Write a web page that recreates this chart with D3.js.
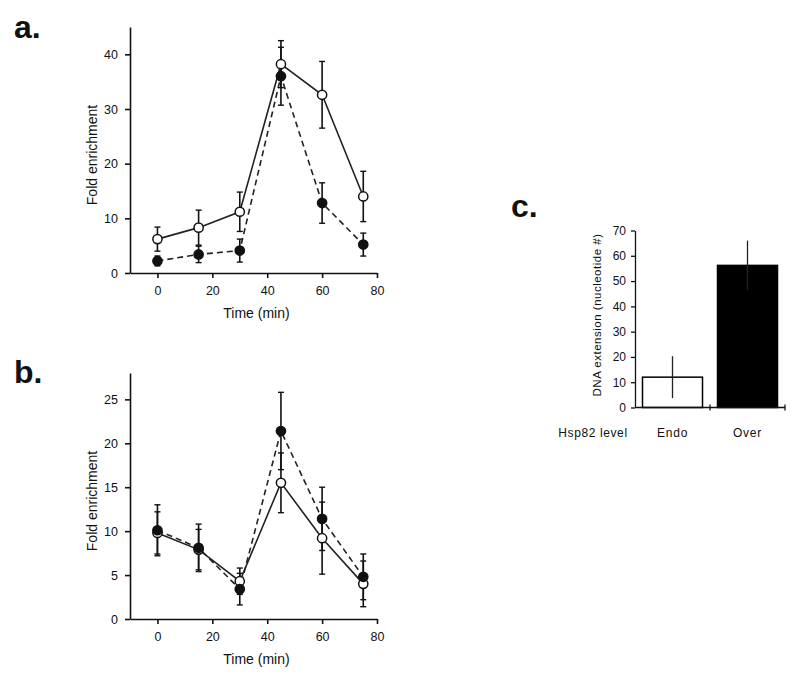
<!DOCTYPE html>
<html><head><meta charset="utf-8">
<script src="https://cdn.jsdelivr.net/npm/d3@7"></script>
<style>body{margin:0;background:#fff}svg{display:block}text{font-family:"Liberation Sans",Arial,sans-serif;fill:#111}</style>
</head><body>
<svg id="c" width="800" height="677"></svg>
<script>
// ---- data ----
const times = [0, 15, 30, 45, 60, 75];
const aOpen = [6.2, 8.3, 11.2, 38.2, 32.6, 14.0];
const aOpenErr = [2.2, 3.2, 3.6, 4.3, 6.1, 4.6];
const aFilled = [2.2, 3.4, 4.1, 36.0, 12.8, 5.2];
const aFilledErr = [0.9, 1.5, 2.1, 5.3, 3.7, 2.1];
const bOpen = [9.8, 7.9, 4.3, 15.5, 9.2, 4.0];
const bOpenErr = [2.4, 2.3, 1.5, 3.4, 4.1, 2.6];
const bFilled = [10.1, 8.1, 3.4, 21.4, 11.4, 4.8];
const bFilledErr = [2.9, 2.7, 1.8, 4.4, 3.6, 2.6];
const xTicks = [0, 20, 40, 60, 80];
const aYTicks = [0, 10, 20, 30, 40];
const bYTicks = [0, 5, 10, 15, 20, 25];
const cCats = ["Endo", "Over"];
const cVals = [12.0, 56.2];
const cErr = [8.3, 9.8];
const cYTicks = [0, 10, 20, 30, 40, 50, 60, 70];

const svg = d3.select("#c");

function linePanel(o) {
  const x = d3.scaleLinear().domain([-10, 80]).range([o.x0, o.x1]);
  const y = d3.scaleLinear().domain([0, o.ymax]).range([o.y0, o.y1]);
  const g = svg.append("g");
  const xa = g.append("g").attr("transform", `translate(0,${o.y0})`)
    .call(d3.axisBottom(x).tickValues(xTicks).tickSize(5).tickPadding(8).tickSizeOuter(0));
  const ya = g.append("g").attr("transform", `translate(${o.x0},0)`)
    .call(d3.axisLeft(y).tickValues(o.yTicks).tickSize(5).tickPadding(7).tickSizeOuter(0));
  [xa, ya].forEach(a => {
    a.select(".domain").attr("stroke", "#111").attr("stroke-width", 1.6);
    a.selectAll(".tick line").attr("stroke", "#111").attr("stroke-width", 1.6);
    a.selectAll("text").attr("font-size", 12.5).attr("fill", "#111");
  });
  g.append("text").attr("x", (x(-10) + x(80)) / 2 + 3).attr("y", o.y0 + 45)
    .attr("text-anchor", "middle").attr("font-size", 14).text("Time (min)");
  g.append("text").attr("transform", `translate(${o.x0 - 33},${(o.y0 + o.y1) / 2 + 5}) rotate(-90)`)
    .attr("text-anchor", "middle").attr("font-size", 14).text("Fold enrichment");
  g.append("text").attr("x", 14).attr("y", o.labelY).attr("font-size", 32)
    .attr("font-weight", "bold").text(o.label);

  const line = d3.line().x((d, i) => x(times[i])).y(d => y(d));
  o.series.forEach(s => {
    g.append("path").datum(s.v).attr("d", line).attr("fill", "none")
      .attr("stroke", "#222").attr("stroke-width", 1.6)
      .attr("stroke-dasharray", s.dash ? "6,4" : null);
    const eb = g.append("g");
    s.v.forEach((v, i) => {
      const cx = x(times[i]), top = y(v + s.e[i]), bot = y(v - s.e[i]);
      eb.append("line").attr("x1", cx).attr("x2", cx).attr("y1", top).attr("y2", bot)
        .attr("stroke", "#111").attr("stroke-width", 1.6);
      [top, bot].forEach(yy => eb.append("line").attr("x1", cx - 3).attr("x2", cx + 3)
        .attr("y1", yy).attr("y2", yy).attr("stroke", "#111").attr("stroke-width", 1.4));
    });
  });
  o.series.forEach(s => {
    g.append("g").selectAll("circle").data(s.v).join("circle")
      .attr("cx", (d, i) => x(times[i])).attr("cy", d => y(d)).attr("r", 4.6)
      .attr("fill", s.filled ? "#111" : "#fff").attr("stroke", "#111").attr("stroke-width", 1.5);
  });
}

linePanel({x0: 130, x1: 377, y0: 273, y1: 27, ymax: 45, yTicks: aYTicks, label: "a.", labelY: 38,
  series: [{v: aFilled, e: aFilledErr, filled: true, dash: true}, {v: aOpen, e: aOpenErr, filled: false, dash: false}]});
linePanel({x0: 130, x1: 377, y0: 619, y1: 373, ymax: 28, yTicks: bYTicks, label: "b.", labelY: 383,
  series: [{v: bOpen, e: bOpenErr, filled: false, dash: false}, {v: bFilled, e: bFilledErr, filled: true, dash: true}]});

// ---- panel c ----
(function () {
  const x0 = 635, x1 = 785, y0 = 407.5, y1 = 230.5;
  const x = d3.scaleBand().domain(cCats).range([x0, x1]).paddingInner(0.2).paddingOuter(0.1);
  const y = d3.scaleLinear().domain([0, 70]).range([y0, y1]);
  const g = svg.append("g");
  g.selectAll("rect").data(cVals).join("rect")
    .attr("x", (d, i) => x(cCats[i])).attr("width", x.bandwidth())
    .attr("y", d => y(d)).attr("height", d => y0 - y(d))
    .attr("fill", (d, i) => i ? "#000" : "#fff").attr("stroke", "#000").attr("stroke-width", 1.5);
  cVals.forEach((v, i) => {
    const cx = x(cCats[i]) + x.bandwidth() / 2;
    g.append("line").attr("x1", cx).attr("x2", cx).attr("y1", y(v + cErr[i])).attr("y2", y(v - cErr[i]))
      .attr("stroke", "#222").attr("stroke-width", 1.3);
  });
  const ya = g.append("g").attr("transform", `translate(${x0},0)`)
    .call(d3.axisLeft(y).tickValues(cYTicks).tickSize(4).tickPadding(5).tickSizeOuter(0));
  ya.select(".domain").attr("stroke", "#111").attr("stroke-width", 1.3);
  ya.selectAll(".tick line").attr("stroke", "#111").attr("stroke-width", 1.3);
  ya.selectAll("text").attr("font-size", 12).attr("fill", "#111");
  g.append("line").attr("x1", x0).attr("x2", x1).attr("y1", y0).attr("y2", y0)
    .attr("stroke", "#111").attr("stroke-width", 1.3);
  [x0 + 75, x1].forEach(t => g.append("line").attr("x1", t).attr("x2", t).attr("y1", y0 - 3).attr("y2", y0 + 3)
    .attr("stroke", "#111").attr("stroke-width", 1.3));
  cCats.forEach(c => g.append("text").attr("x", x(c) + x.bandwidth() / 2).attr("y", 437)
    .attr("text-anchor", "middle").attr("font-size", 12).attr("letter-spacing", 0.8).text(c));
  g.append("text").attr("x", 593).attr("y", 437).attr("text-anchor", "middle")
    .attr("font-size", 12).attr("letter-spacing", 0.6).text("Hsp82 level");
  g.append("text").attr("transform", `translate(601,${(y0 + y1) / 2 - 4}) rotate(-90)`)
    .attr("text-anchor", "middle").attr("font-size", 11.5).attr("letter-spacing", 0.5)
    .text("DNA extension (nucleotide #)");
  g.append("text").attr("x", 511).attr("y", 217).attr("font-size", 32).attr("font-weight", "bold").text("c.");
})();
</script>
</body></html>
